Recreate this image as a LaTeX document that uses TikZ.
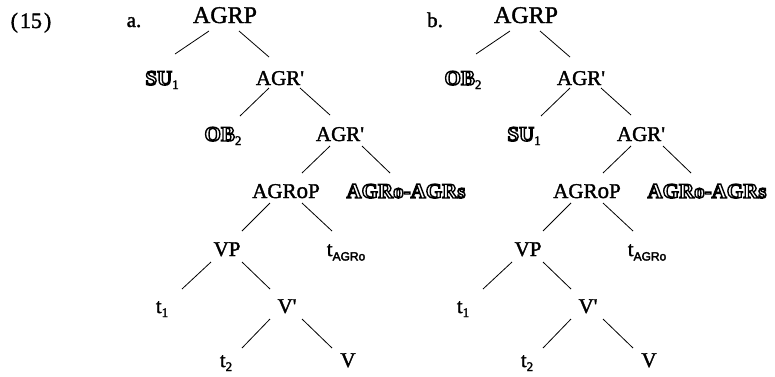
\documentclass[tikz,border=0pt]{standalone}
\usepackage{fontspec}
\setmainfont{Liberation Serif}
\newfontfamily\tf{Liberation Serif}
\newfontfamily\subsans{Liberation Sans}
\usetikzlibrary{calc}
\newcommand\emb{\special{pdf:literal direct 2 Tr 0.35 w}}
\newcommand\outl[1]{{\bfseries\special{pdf:literal direct 1 Tr 1.4 w}#1\special{pdf:literal direct 2 Tr 0.35 w}}}
\newcommand\sub[1]{\raisebox{-4pt}{\fontsize{13}{13}\selectfont #1}}
\newcommand\sansub[1]{\raisebox{-4.5pt}{\subsans\fontsize{12}{12}\selectfont #1}}
\tikzset{
  lab/.style={anchor=base, inner sep=0pt, font=\tf\fontsize{21}{24}\selectfont\emb},
  big/.style={lab, font=\tf\fontsize{24}{28}\selectfont\emb},
  br/.style={line width=0.8pt}
}
\newcommand\br[4]{\draw[br] ($(#1.base)+(#2)$) -- ($(#3.base)+(#4)$);}
\newcommand\mytree[4]{%
\begin{scope}[xshift=#2pt]
\node[big] (#1root) at (225,23) {AGRP};
\node[lab] (#1spa) at (162,85) {#3};
\node[lab] (#1bara) at (280,85) {AGR\textquotesingle};
\node[lab] (#1spb) at (223,141) {#4};
\node[lab] (#1barb) at (340,141) {AGR\textquotesingle};
\node[lab] (#1agro) at (286,198) {AGR{\fontsize{23}{24}\selectfont o}P};
\node[lab] (#1head) at (406,198) {\outl{AGRo-AGRs}};
\node[lab] (#1vp) at (227,256) {VP};
\node[lab] (#1tag) at (346,256) {t\sansub{AGRo}};
\node[lab] (#1ta) at (162,313) {t\sub{1}};
\node[lab] (#1vbar) at (287,313) {V\textquotesingle};
\node[lab] (#1tb) at (226,367) {t\sub{2}};
\node[lab] (#1v) at (348,367) {V};
\end{scope}
\br{#1root}{-16,8}{#1spa}{13,-31}
\br{#1root}{14,8}{#1bara}{-11,-28}
\br{#1bara}{-11,3}{#1spb}{17,-25}
\br{#1bara}{20,3}{#1barb}{-10,-26}
\br{#1barb}{-10,5}{#1agro}{16,-25}
\br{#1barb}{22,5}{#1head}{-16,-25}
\br{#1agro}{-16,5}{#1vp}{15,-25}
\br{#1agro}{16,5}{#1tag}{-14,-25}
\br{#1vp}{-16,6}{#1ta}{20,-24}
\br{#1vp}{15,6}{#1vbar}{-17,-24}
\br{#1vbar}{-17,6}{#1tb}{16,-19}
\br{#1vbar}{15,6}{#1v}{-16,-19}
}
\begin{document}
\begin{tikzpicture}[x=1pt,y=-1pt]
\useasboundingbox (0,0) rectangle (775,376);
\node[lab, font=\tf\fontsize{22}{26}\selectfont\emb] (num) at (31,28) {(\hspace{2pt}15\hspace{2pt})};
\node[lab] (la) at (134,27) {a.};
\node[lab] (lb) at (435,27) {b.};
\mytree{a}{0}{\outl{SU}\sub{1}}{\outl{OB}\sub{2}}
\mytree{b}{301}{\outl{OB}\sub{2}}{\outl{SU}\sub{1}}
\end{tikzpicture}
\end{document}
